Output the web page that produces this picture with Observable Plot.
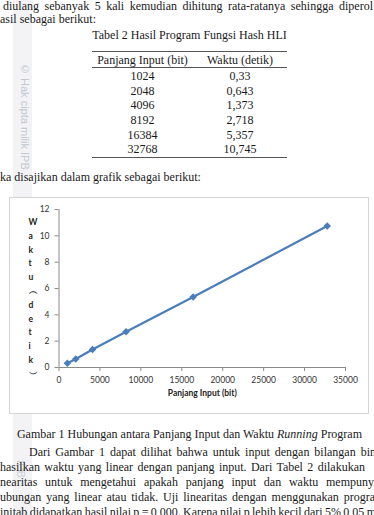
<!DOCTYPE html>
<html><head><meta charset="utf-8">
<script src="https://cdn.jsdelivr.net/npm/d3@7"></script>
<script src="https://cdn.jsdelivr.net/npm/@observablehq/plot@0.6"></script>
<style>
html,body{margin:0;padding:0;background:#fff;}
body{width:374px;height:515px;overflow:hidden;position:relative;font-family:"Liberation Serif","Times New Roman",serif;font-size:12px;color:#1a1a1a;}
#page{position:absolute;left:0;top:0;width:374px;height:515px;overflow:hidden;}
.ln{position:absolute;white-space:pre;line-height:12px;}
.band{position:absolute;left:13px;top:0;width:19px;height:515px;background:#f3f3f5;}
.wm{position:absolute;writing-mode:vertical-rl;font-family:"Liberation Sans",sans-serif;font-size:11px;color:#c3c8d2;white-space:pre;}
.rule{position:absolute;height:1px;background:#555;}
#chartbox{position:absolute;left:9px;top:197px;width:358px;height:215px;border:1px solid #d4d4d4;background:#fff;}
#chartbox svg{position:absolute;left:0;top:0;}
</style></head><body>
<div id="page">
  <div class="band"></div>
  <div class="wm" style="left:19px;top:63px;">© Hak cipta milik IPB</div>
  <div class="wm" style="left:15px;top:460px;opacity:0.8;">IPB</div>
  <div id="chartbox"></div>
</div>
<script>
// ---- data ----
const panjangInput = [1024, 2048, 4096, 8192, 16384, 32768];
const waktu = [0.33, 0.643, 1.373, 2.718, 5.357, 10.745];
const waktuLabels = ["0,33", "0,643", "1,373", "2,718", "5,357", "10,745"];
const tableTitle = "Tabel 2 Hasil Program Fungsi Hash HLI";
const tableHeaders = ["Panjang Input (bit)", "Waktu (detik)"];
const xTicks = [0, 5000, 10000, 15000, 20000, 25000, 30000, 35000];
const yTicks = [0, 2, 4, 6, 8, 10, 12];
const xLabel = "Panjang Input (bit)";
const yLabel = "Waktu (detik)";
const figCaption = "Gambar 1 Hubungan antara Panjang Input dan Waktu <i>Running</i> Program";

const page = document.getElementById("page");

function addLine(html, left, baseline, right, align) {
  const el = document.createElement("div");
  el.className = "ln";
  el.innerHTML = html;
  el.style.top = (baseline - 10) + "px";
  el.style.left = "0px";
  page.appendChild(el);
  const w = el.getBoundingClientRect().width;
  if (align === "justify") {
    const n = (el.textContent.match(/ /g) || []).length;
    el.style.wordSpacing = ((right - left - w) / n) + "px";
    el.style.left = left + "px";
  } else if (align === "center") {
    el.style.left = ((left + right) / 2 - w / 2) + "px";
  } else {
    el.style.left = left + "px";
  }
  return el;
}
function addRule(left, right, y) {
  const r = document.createElement("div");
  r.className = "rule";
  r.style.left = left + "px";
  r.style.width = (right - left) + "px";
  r.style.top = (y - 0.5) + "px";
  page.appendChild(r);
}

// text above
addLine("diulang sebanyak 5 kali kemudian dihitung rata-ratanya sehingga diperol", 3, 10, 373, "justify");
addLine("asil sebagai berikut:", 0, 22.5);
addLine(tableTitle, 92, 39, 287, "center");

// table
addRule(92, 287, 51.5);
addLine(tableHeaders[0], 92, 64.3, 193, "center");
addLine(tableHeaders[1], 193, 64.3, 287, "center");
addRule(92, 287, 67);
panjangInput.forEach((v, i) => {
  const b = 80 + i * 14.66;
  addLine(String(v), 92, b, 193, "center");
  addLine(waktuLabels[i], 193, b, 287, "center");
});
addRule(92, 287, 157.5);

addLine("ka disajikan dalam grafik sebagai berikut:", 0, 180.5);

// caption and paragraph below
addLine(figCaption, 17, 437.5, 362, "center");
addLine("Dari Gambar 1 dapat dilihat bahwa untuk input dengan bilangan bin", 29, 455.5, 376, "justify");
addLine("hasilkan waktu yang linear dengan panjang input. Dari Tabel 2 dilakukan", 0, 470.5, 365, "justify");
addLine("nearitas untuk mengetahui apakah panjang input dan waktu mempuny", 0, 485.5, 374, "justify");
addLine("ubungan yang linear atau tidak. Uji linearitas dengan menggunakan progra", 0, 500.5, 375, "justify");
addLine("initab didapatkan hasil nilai p = 0,000. Karena nilai p lebih kecil dari 5% 0,05 m", 0, 515.5, 376, "justify");

// chart
const data = panjangInput.map((x, i) => ({x, y: waktu[i]}));
const stacked = [...yLabel].filter(c => c !== " ").map(c => c === "(" ? "\uFE35" : c === ")" ? "\uFE36" : c).join("\n");
const blue = "#4a7ebb";

const chart = Plot.plot({
  width: 358,
  height: 215,
  marginLeft: 48.5,
  marginRight: 23,
  marginTop: 11,
  marginBottom: 46,
  style: {fontFamily: "Lato, 'Open Sans', sans-serif", fontSize: "8.5px", color: "#333", background: "transparent", overflow: "visible"},
  x: {domain: [0, 35000]},
  y: {domain: [0, 12]},
  marks: [
    Plot.axisX({ticks: xTicks, tickFormat: d3.format("d"), tickSize: 4, tickPadding: 5, stroke: "#8a8a8a", fill: "#333", label: null}),
    Plot.axisY({ticks: yTicks, tickSize: 4, tickPadding: 5.5, stroke: "#8a8a8a", fill: "#333", label: null}),
    Plot.ruleY([0], {stroke: "#8a8a8a"}),
    Plot.ruleX([0], {stroke: "#8a8a8a"}),
    Plot.line(data, {x: "x", y: "y", stroke: blue, strokeWidth: 2.2}),
    Plot.dot(data, {x: "x", y: "y", symbol: "diamond2", r: 3.4, fill: blue, stroke: "none"}),
    Plot.text([xLabel], {frameAnchor: "bottom", dy: 28, fontWeight: "bold", fill: "#222"}),
    Plot.text([stacked], {frameAnchor: "left", dx: -30.5, dy: 8, lineHeight: 1.62, fontWeight: "bold", fill: "#222"})
  ]
});
document.getElementById("chartbox").appendChild(chart);
</script>
</body></html>
